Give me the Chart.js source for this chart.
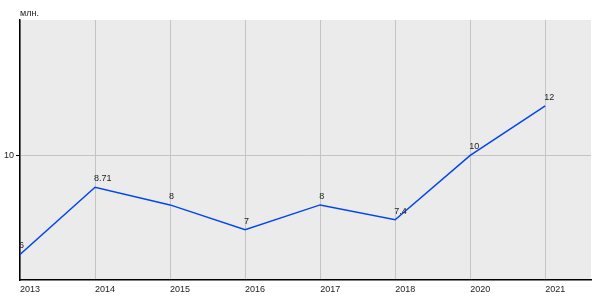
<!DOCTYPE html>
<html>
<head>
<meta charset="utf-8">
<script src="https://cdn.jsdelivr.net/npm/chart.js@4/dist/chart.umd.min.js"></script>
<style>
  html, body { margin: 0; padding: 0; background: #ffffff; }
  #wrap { width: 600px; height: 300px; position: relative; }
</style>
</head>
<body>
<div id="wrap"><canvas id="chart" width="600" height="300"></canvas></div>
<script>
const years = ["2013", "2014", "2015", "2016", "2017", "2018", "2020", "2021"];
const values = [6, 8.71, 8, 7, 8, 7.4, 10, 12];
const value_labels = ["6", "8.71", "8", "7", "8", "7.4", "10", "12"];
const unit_label = "млн.";

const font_family = "'Liberation Sans', Arial, sans-serif";

// plot background + unit label
const backdrop = {
  id: "backdrop",
  beforeDraw(chart) {
    const { ctx, chartArea: a } = chart;
    ctx.save();
    ctx.fillStyle = "#ebebeb";
    ctx.fillRect(a.left, a.top, a.right - a.left, a.bottom - a.top);
    ctx.fillStyle = "#222";
    ctx.font = "9px " + font_family;
    ctx.textBaseline = "bottom";
    ctx.fillText(unit_label, a.left, a.top - 2);
    ctx.restore();
  }
};

// value labels next to the points
const pointLabels = {
  id: "pointLabels",
  afterDatasetsDraw(chart) {
    const { ctx } = chart;
    const meta = chart.getDatasetMeta(0);
    ctx.save();
    ctx.fillStyle = "#222";
    ctx.font = "9px " + font_family;
    ctx.textBaseline = "bottom";
    meta.data.forEach((pt, i) => {
      ctx.fillText(value_labels[i], pt.x - 1, pt.y - 4);
    });
    ctx.restore();
  }
};

new Chart(document.getElementById("chart"), {
  type: "line",
  data: {
    datasets: [{
      data: values.map((v, i) => ({ x: i, y: v })),
      borderColor: "#0046ee",
      borderWidth: 1.5,
      pointRadius: 0,
      fill: false,
      tension: 0
    }]
  },
  options: {
    responsive: false,
    animation: false,
    devicePixelRatio: 1,
    layout: { padding: { top: 20, right: 9, left: 0, bottom: 0 } },
    plugins: {
      legend: { display: false },
      tooltip: { enabled: false }
    },
    scales: {
      x: {
        type: "linear",
        min: 0,
        max: 7.61,
        afterFit: (s) => { s.height = 20; },
        afterBuildTicks: (s) => {
          s.ticks = years.map((y, i) => ({ value: i }));
        },
        ticks: {
          color: "#222",
          font: { size: 9, family: font_family },
          padding: 4,
          align: "start",
          maxRotation: 0,
          callback: (v) => years[v] ?? ""
        },
        grid: { color: "#c4c4c4", lineWidth: 1, drawTicks: false },
        border: { color: "#000", width: 1.5 }
      },
      y: {
        min: 4.97,
        max: 15.46,
        afterFit: (s) => { s.width = 20; },
        afterBuildTicks: (s) => { s.ticks = [{ value: 10 }]; },
        ticks: {
          color: "#222",
          font: { size: 9, family: font_family },
          padding: 2
        },
        grid: { color: (c) => c.tick && c.tick.value === 10 ? "#c4c4c4" : "transparent", tickColor: "#000", tickLength: 4, lineWidth: 1 },
        border: { color: "#000", width: 1.5 }
      }
    }
  },
  plugins: [backdrop, pointLabels]
});
</script>
</body>
</html>
